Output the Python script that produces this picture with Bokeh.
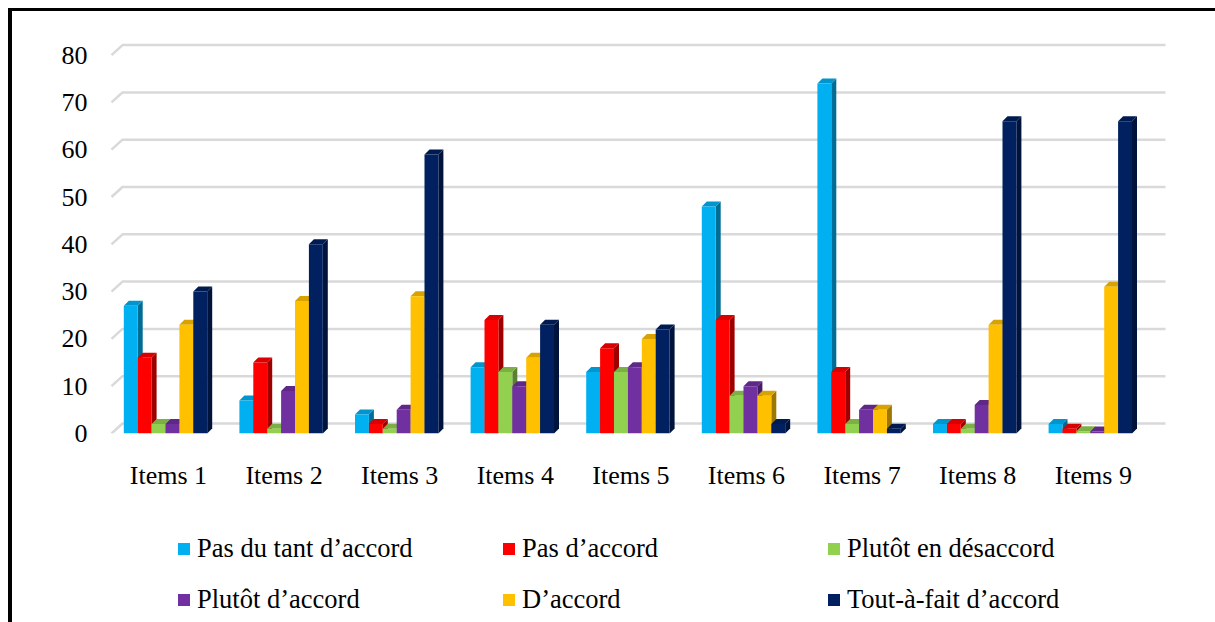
from bokeh.plotting import figure
from bokeh.layouts import column
from bokeh.models import Range1d, FixedTicker, Legend, LegendItem
from bokeh.embed import file_html
from bokeh.resources import INLINE

categories = ["Items 1", "Items 2", "Items 3", "Items 4", "Items 5",
              "Items 6", "Items 7", "Items 8", "Items 9"]
series_names = ["Pas du tant d\u2019accord", "Pas d\u2019accord", "Plut\u00f4t en d\u00e9saccord",
                "Plut\u00f4t d\u2019accord", "D\u2019accord", "Tout-\u00e0-fait d\u2019accord"]
pas_du_tant = [27, 7, 4, 14, 13, 48, 74, 2, 2]
pas_daccord = [16, 15, 2, 24, 18, 24, 13, 2, 1]
plutot_desaccord = [2, 1, 1, 13, 13, 8, 2, 1, 0.5]
plutot_accord = [2, 9, 5, 10, 14, 10, 5, 6, 0.4]
daccord = [23, 28, 29, 16, 20, 8, 5, 23, 31]
tout_a_fait = [30, 40, 59, 23, 22, 2, 1, 66, 66]
y_ticks = [0, 10, 20, 30, 40, 50, 60, 70, 80]

series = [pas_du_tant, pas_daccord, plutot_desaccord, plutot_accord, daccord, tout_a_fait]
colors = ["#00B0F0", "#FF0000", "#92D050", "#7030A0", "#FFC000", "#002060"]

FONT = "Liberation Serif"

def shade(hx, f):
    r, g, b = int(hx[1:3], 16), int(hx[3:5], 16), int(hx[5:7], 16)
    return "#%02x%02x%02x" % (int(r * f), int(g * f), int(b * f))

# scale helpers (pixels per data unit) for the pseudo-3D styling
PX_X = 115.6
PX_Y = 4.73
x0_range = 1 - (168 - 109) / PX_X
x1_range = 1 + (1166 - 168) / PX_X
y1_range = (433 - 30) / PX_Y

p = figure(width=1203, height=489, output_backend="svg", toolbar_location=None,
           x_range=Range1d(x0_range, x1_range), y_range=Range1d(0, y1_range),
           min_border_left=97, min_border_right=49, min_border_top=19, min_border_bottom=67)
p.outline_line_color = None
p.background_fill_color = "white"
p.border_fill_color = "white"
p.xgrid.visible = False
p.ygrid.visible = False

# back-wall gridlines with a slanted floor edge
gdx = 11 / PX_X
gdy = 10 / PX_Y
gx0 = 1 - (168 - 111) / PX_X
gx_end = 1 + (1165 - 168) / PX_X
p.multi_line(xs=[[gx0, gx0 + gdx, gx_end] for t in y_ticks],
             ys=[[t, t + gdy, t + gdy] for t in y_ticks],
             line_color="#D9D9D9", line_width=2.5)

bw = 13.9 / PX_X
group_shift = -3 / PX_X
bdx = 5 / PX_X
bdy = 5 / PX_Y
for i, (vals, col) in enumerate(zip(series, colors)):
    xs_c = [k + 1 + group_shift + (i - 2.5) * bw for k in range(len(vals))]
    lefts = [c - bw / 2 for c in xs_c]
    rights = [c + bw / 2 for c in xs_c]
    side_xs = [[r, r, r + bdx, r + bdx] for r in rights]
    side_ys = [[0, v, v + bdy, bdy] for v in vals]
    top_xs = [[l, l + bdx, r + bdx, r] for l, r in zip(lefts, rights)]
    top_ys = [[v, v + bdy, v + bdy, v] for v in vals]
    p.patches(xs=side_xs, ys=side_ys, fill_color=shade(col, 0.62), line_color=None)
    p.patches(xs=top_xs, ys=top_ys, fill_color=shade(col, 0.85), line_color=None)
    p.vbar(x=xs_c, top=vals, bottom=0, width=bw, fill_color=col, line_color=None)

p.yaxis.ticker = FixedTicker(ticks=y_ticks)
p.yaxis.axis_line_color = None
p.yaxis.major_tick_line_color = None
p.yaxis.minor_tick_line_color = None
p.yaxis.major_label_standoff = 16
p.yaxis.major_label_text_font = FONT
p.yaxis.major_label_text_font_size = "26px"
p.yaxis.major_label_text_color = "black"

p.xaxis.ticker = FixedTicker(ticks=list(range(1, len(categories) + 1)))
p.xaxis.major_label_overrides = {k + 1: c for k, c in enumerate(categories)}
p.xaxis.axis_line_color = None
p.xaxis.major_tick_line_color = None
p.xaxis.minor_tick_line_color = None
p.xaxis.major_label_standoff = 21
p.xaxis.major_label_text_font = FONT
p.xaxis.major_label_text_font_size = "26px"
p.xaxis.major_label_text_color = "black"

# legend strip below the chart (its swatch renderers sit far outside the visible range)
p2 = figure(width=1203, height=122, output_backend="svg", toolbar_location=None,
            x_range=Range1d(0, 1), y_range=Range1d(0, 1),
            min_border_left=0, min_border_right=0, min_border_top=0, min_border_bottom=0)
p2.axis.visible = False
p2.grid.visible = False
p2.outline_line_color = None
p2.border_fill_color = "white"
items = []
for name, col in zip(series_names, colors):
    r = p2.vbar(x=[-10000], top=[-9999], bottom=-10000, width=0.1,
                fill_color=col, line_color=None)
    items.append(LegendItem(label=name, renderers=[r]))

legend = Legend(items=items, orientation="horizontal", ncols=3,
                location=(67, 7), border_line_color=None, background_fill_alpha=0,
                label_text_font=FONT, label_text_font_size="26.5px",
                label_text_color="black", glyph_width=15, glyph_height=15,
                label_standoff=6, label_width=284, label_height=26,
                spacing=20, padding=6, margin=0)
p2.add_layout(legend, "center")

layout = column(p, p2, spacing=0,
                styles={"margin-left": "8px", "margin-top": "8px",
                        "border-left": "4px solid black", "border-top": "3px solid black"})

open("out.html", "w").write(file_html(layout, INLINE))
